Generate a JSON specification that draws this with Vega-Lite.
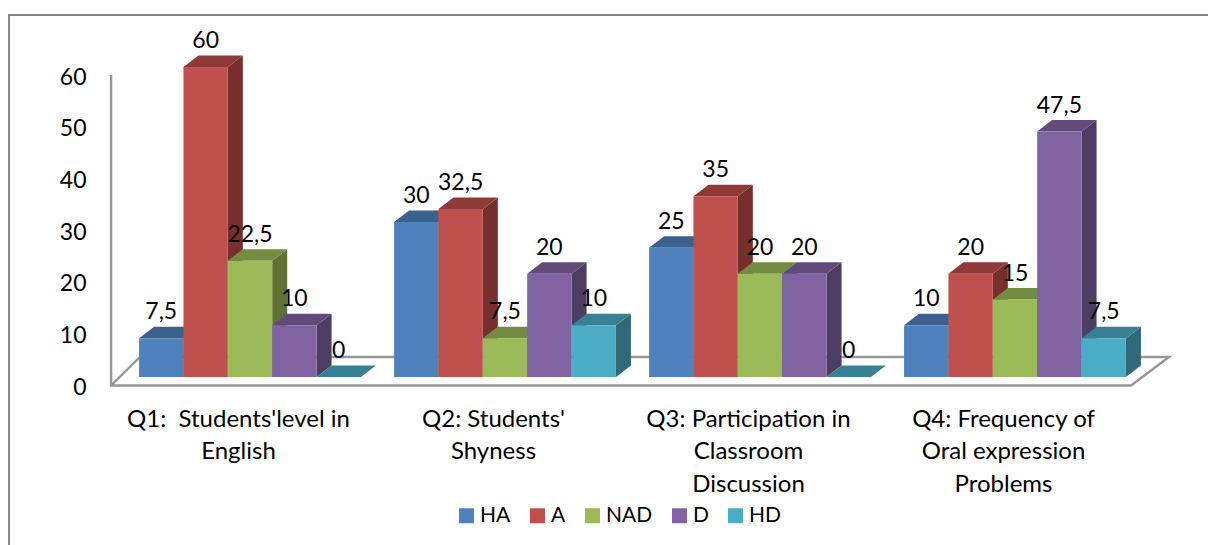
{
"$schema":"https://vega.github.io/schema/vega-lite/v6.json",
"width":1208,"height":545,"padding":0,"autosize":{"type":"none"},"background":"#ffffff",
"config":{"view":{"stroke":null},"font":"Lato","axis":{"grid":false,"domain":false,"ticks":false,"title":null}},
"datasets":{"rows":[
{"q":"Q1:  Students'level in English","s":"HA","v":7.5,"label":"7,5"},
{"q":"Q1:  Students'level in English","s":"A","v":60,"label":"60"},
{"q":"Q1:  Students'level in English","s":"NAD","v":22.5,"label":"22,5"},
{"q":"Q1:  Students'level in English","s":"D","v":10,"label":"10"},
{"q":"Q1:  Students'level in English","s":"HD","v":0,"label":"0"},
{"q":"Q2: Students' Shyness","s":"HA","v":30,"label":"30"},
{"q":"Q2: Students' Shyness","s":"A","v":32.5,"label":"32,5"},
{"q":"Q2: Students' Shyness","s":"NAD","v":7.5,"label":"7,5"},
{"q":"Q2: Students' Shyness","s":"D","v":20,"label":"20"},
{"q":"Q2: Students' Shyness","s":"HD","v":10,"label":"10"},
{"q":"Q3: Participation in Classroom Discussion","s":"HA","v":25,"label":"25"},
{"q":"Q3: Participation in Classroom Discussion","s":"A","v":35,"label":"35"},
{"q":"Q3: Participation in Classroom Discussion","s":"NAD","v":20,"label":"20"},
{"q":"Q3: Participation in Classroom Discussion","s":"D","v":20,"label":"20"},
{"q":"Q3: Participation in Classroom Discussion","s":"HD","v":0,"label":"0"},
{"q":"Q4: Frequency of Oral expression Problems","s":"HA","v":10,"label":"10"},
{"q":"Q4: Frequency of Oral expression Problems","s":"A","v":20,"label":"20"},
{"q":"Q4: Frequency of Oral expression Problems","s":"NAD","v":15,"label":"15"},
{"q":"Q4: Frequency of Oral expression Problems","s":"D","v":47.5,"label":"47,5"},
{"q":"Q4: Frequency of Oral expression Problems","s":"HD","v":7.5,"label":"7,5"}
],"anchor":[{"q":"Q1:  Students'level in English","s":"HA","v":0}]},
"data":{"name":"rows"},
"encoding":{
"x":{"field":"q","type":"nominal","sort":null,"scale":{"domain":["Q1:  Students'level in English","Q2: Students' Shyness","Q3: Participation in Classroom Discussion","Q4: Frequency of Oral expression Problems"],"range":[122.5,1142.5],"paddingInner":0.13,"paddingOuter":0.065},
"axis":{"orient":"bottom","offset":-138,"labelPadding":0,"labelAngle":0,"labelBaseline":"top","labelAlign":"center","labelOffset":-11.5,"labelFontSize":24,"labelColor":"#000000","labelLimit":0,"labelLineHeight":32.5,"labelExpr":"{'Q1':[\"Q1:\u00a0 Students'level in\",'English'],'Q2':[\"Q2: Students'\",'Shyness'],'Q3':['Q3: Participation in','Classroom','Discussion'],'Q4':['Q4: Frequency of','Oral expression','Problems']}[substring(datum.label,0,2)]"}},
"xOffset":{"field":"s","type":"nominal","sort":null,"scale":{"domain":["HA","A","NAD","D","HD"]}},
"y":{"field":"v","type":"quantitative","scale":{"domain":[0,60],"range":[377,67],"nice":false,"zero":true},
"axis":{"orient":"left","offset":-86,"labelPadding":0,"labelOffset":10,"values":[0,10,20,30,40,50,60],"labelFontSize":23,"labelColor":"#000000"}}
},
"layer":[
{"data":{"name":"anchor"},"mark":{"type":"point","size":4,"filled":false,"stroke":"#868686","strokeWidth":2,"opacity":1,"shape":"M-152.2,168L-152.2,-362L1046.8,-362"}},
{"data":{"name":"anchor"},"mark":{"type":"point","size":4,"filled":false,"stroke":"#969696","strokeWidth":2.4,"opacity":1,"shape":"M-50.2,-302L-50.2,8.5L969.8,8.5L1007.8,-20L-21.2,-20L-50.2,8.5"}},
{"mark":{"type":"point","size":4,"filled":true,"opacity":1},"encoding":{
"color":{"field":"s","type":"nominal","legend":null,"scale":{"domain":["HA","A","NAD","D","HD"],"range":["#30507A","#772F2D","#5E7233","#4E3D63","#2E6A7A"]}},
"shape":{"field":"v","type":"ordinal","legend":null,"scale":{"domain":[0,7.5,10,15,20,22.5,25,30,32.5,35,47.5,60],"range":[
"M22.2,0L22.2,0Z",
"M22.2,0L37.2,-11.5L37.2,27.25L22.2,38.75Z",
"M22.2,0L37.2,-11.5L37.2,40.17L22.2,51.67Z",
"M22.2,0L37.2,-11.5L37.2,66L22.2,77.5Z",
"M22.2,0L37.2,-11.5L37.2,91.83L22.2,103.33Z",
"M22.2,0L37.2,-11.5L37.2,104.75L22.2,116.25Z",
"M22.2,0L37.2,-11.5L37.2,117.67L22.2,129.17Z",
"M22.2,0L37.2,-11.5L37.2,143.5L22.2,155Z",
"M22.2,0L37.2,-11.5L37.2,156.42L22.2,167.92Z",
"M22.2,0L37.2,-11.5L37.2,169.33L22.2,180.83Z",
"M22.2,0L37.2,-11.5L37.2,233.92L22.2,245.42Z",
"M22.2,0L37.2,-11.5L37.2,298.5L22.2,310Z"
]}}}},
{"mark":{"type":"point","size":4,"filled":true,"opacity":1,"shape":"M-22.2,0L22.2,0L37.2,-11.5L-7.2,-11.5Z"},"encoding":{"color":{"field":"s","type":"nominal","legend":null,"scale":{"domain":["HA","A","NAD","D","HD"],"range":["#3C618F","#8F3A38","#738C42","#604B7A","#388194"]}}}},
{"mark":{"type":"bar"},"encoding":{"color":{"field":"s","type":"nominal","scale":{"domain":["HA","A","NAD","D","HD"],"range":["#4F81BD","#C0504D","#9BBB59","#8064A2","#4BACC6"]},
"legend":{"orient":"none","legendX":456,"legendY":505,"direction":"horizontal","title":null,"symbolType":"square","symbolSize":225,"symbolStrokeWidth":0,"symbolOpacity":1,"labelFontSize":21,"labelColor":"#000000","labelOffset":3,"columnPadding":16,"labelLimit":0}}}},
{"mark":{"type":"text","fontSize":23,"color":"#000000","baseline":"middle","align":"center","dy":-26},"encoding":{"text":{"field":"label","type":"nominal"}}}
],
"resolve":{"scale":{"color":"independent"}}
}
